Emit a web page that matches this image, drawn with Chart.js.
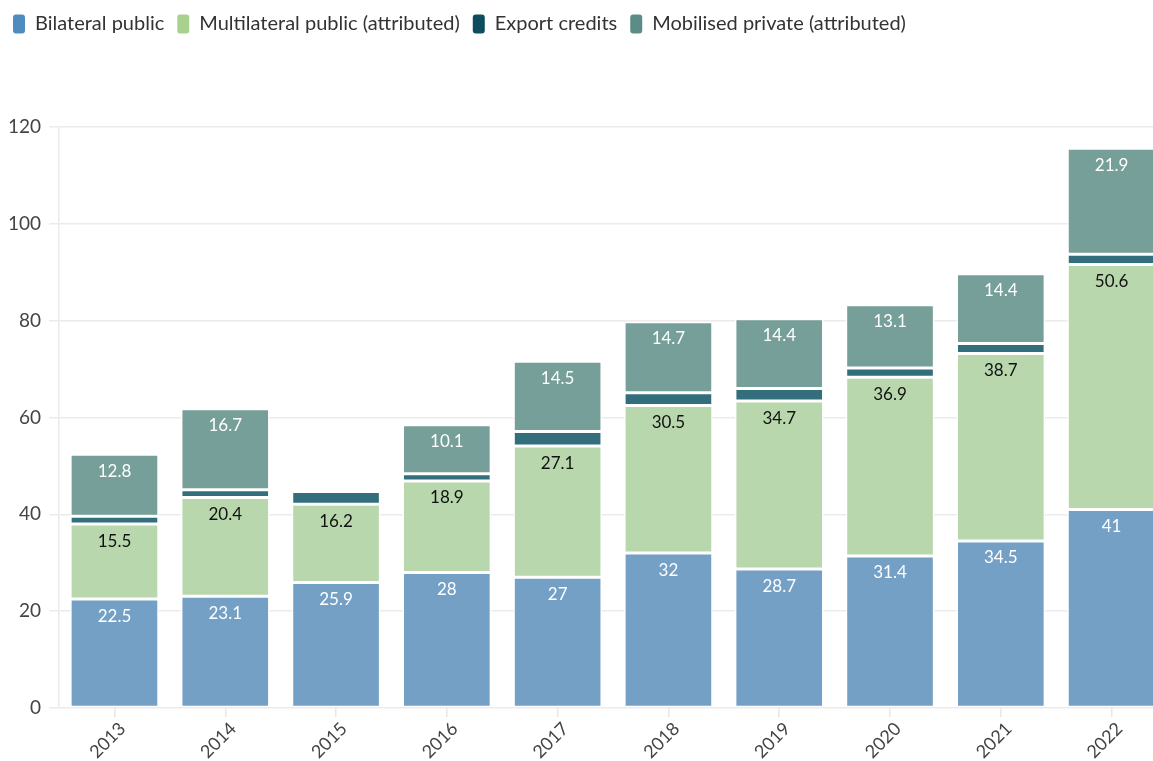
<!DOCTYPE html>
<html>
<head>
<meta charset="utf-8">
<script src="https://cdn.jsdelivr.net/npm/chart.js@4.4.0/dist/chart.umd.min.js"></script>
<style>
  html, body { margin: 0; padding: 0; background: #fff; overflow: hidden; }
  #wrap { width: 1170px; height: 761px; }
</style>
</head>
<body>
<div id="wrap"><canvas id="climateFinance"></canvas></div>
<script>
const years = ["2013", "2014", "2015", "2016", "2017", "2018", "2019", "2020", "2021", "2022"];
const bilateral = [22.5, 23.1, 25.9, 28, 27, 32, 28.7, 31.4, 34.5, 41];
const multilateral = [15.5, 20.4, 16.2, 18.9, 27.1, 30.5, 34.7, 36.9, 38.7, 50.6];
const exportCredits = [1.6, 1.6, 2.6, 1.5, 3.0, 2.6, 2.6, 1.9, 2.1, 2.1];
const mobilised = [12.8, 16.7, null, 10.1, 14.5, 14.7, 14.4, 13.1, 14.4, 21.9];
const yTicks = [0, 20, 40, 60, 80, 100, 120];

const fontFamily = "Lato, 'Open Sans', sans-serif";

// draws the value labels near the top of each segment
const segmentLabels = {
    id: "segmentLabels",
    afterDatasetsDraw(chart) {
        const ctx = chart.ctx;
        ctx.save();
        ctx.font = "17px " + fontFamily;
        ctx.textAlign = "center";
        ctx.textBaseline = "middle";
        chart.data.datasets.forEach((ds, i) => {
            if (!ds.labelColor) return;
            chart.getDatasetMeta(i).data.forEach((bar, j) => {
                const v = ds.data[j];
                if (v == null) return;
                ctx.fillStyle = ds.labelColor;
                ctx.fillText(String(v), bar.x, bar.y + 17);
            });
        });
        ctx.restore();
    },
};

const ctx = document.getElementById("climateFinance").getContext("2d");
window.chart = new Chart(ctx, {
    type: "bar",
    data: {
        labels: years,
        datasets: [
            {
                label: "Bilateral public",
                data: bilateral,
                backgroundColor: "#73a0c4",
                legendColor: "#4f8bbf",
                labelColor: "#ffffff",
            },
            {
                label: "Multilateral public (attributed)",
                data: multilateral,
                backgroundColor: "#b8d7ac",
                legendColor: "#a9d08e",
                labelColor: "#111111",
            },
            {
                label: "Export credits",
                data: exportCredits,
                backgroundColor: "#336e7c",
                legendColor: "#0e4d5e",
            },
            {
                label: "Mobilised private (attributed)",
                data: mobilised,
                backgroundColor: "#769f99",
                legendColor: "#5b8d86",
                labelColor: "#ffffff",
            },
        ].map((d) => Object.assign(d, {
            borderColor: "#ffffff",
            borderWidth: 1.5,
            borderSkipped: false,
            categoryPercentage: 0.8,
            barPercentage: 1,
        })),
    },
    options: {
        responsive: true,
        maintainAspectRatio: false,
        animation: false,
        layout: { padding: { top: 1, right: 3, left: 0, bottom: 0 } },
        plugins: {
            tooltip: { enabled: false },
            legend: {
                position: "top",
                align: "start",
                labels: {
                    color: "#333333",
                    font: { family: fontFamily, size: 20 },
                    boxWidth: 12,
                    boxHeight: 19,
                    padding: 13,
                    useBorderRadius: true,
                    borderRadius: 3,
                    generateLabels(chart) {
                        return chart.data.datasets.map((ds, i) => ({
                            text: ds.label,
                            fillStyle: ds.legendColor,
                            strokeStyle: ds.legendColor,
                            lineWidth: 0,
                            borderRadius: 3,
                            fontColor: "#333333",
                            datasetIndex: i,
                        }));
                    },
                },
            },
        },
        scales: {
            x: {
                stacked: true,
                grid: { display: true, offset: false, drawOnChartArea: false, drawTicks: true, tickLength: 9, color: "#e6e6e6", lineWidth: 1.5 },
                border: { display: false },
                ticks: {
                    color: "#444444",
                    font: { family: fontFamily, size: 18 },
                    maxRotation: 45,
                    minRotation: 45,
                    padding: 1,
                    labelOffset: 8,
                },
                afterFit(axis) {
                    axis.height = 53;
                },
            },
            y: {
                stacked: true,
                min: 0,
                max: 120,
                afterBuildTicks(axis) {
                    axis.ticks = yTicks.map((v) => ({ value: v }));
                },
                grid: { color: "#ebebeb", lineWidth: 1.5, tickLength: 10 },
                border: { display: true, color: "#ebebeb", width: 1.5 },
                ticks: {
                    color: "#444444",
                    font: { family: fontFamily, size: 19 },
                    padding: 8,
                },
            },
        },
    },
    plugins: [segmentLabels, {
        id: "legendGap",
        beforeInit(chart) {
            const fit = chart.legend.fit;
            chart.legend.fit = function () {
                fit.bind(chart.legend)();
                this.height = 126;
            };
        },
    }],
});
</script>
</body>
</html>
